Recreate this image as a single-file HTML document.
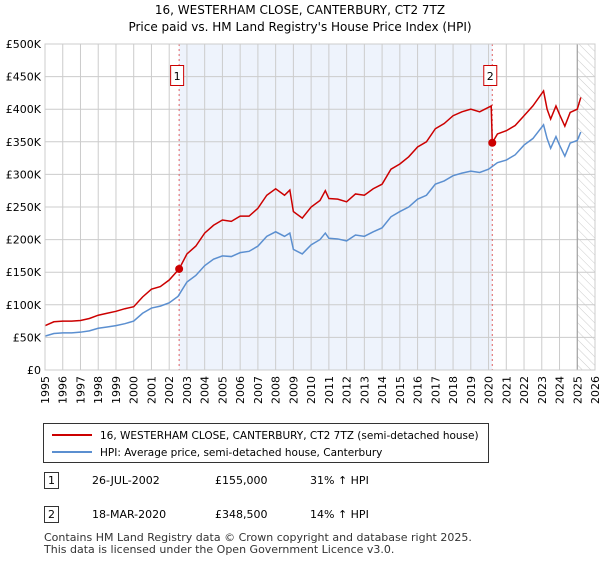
<!DOCTYPE html>
<html><head><meta charset="utf-8"><style>
body{margin:0;background:#fff;font-family:"Liberation Sans","DejaVu Sans",sans-serif;}
svg text{font-family:"DejaVu Sans","Liberation Sans",sans-serif;}
</style></head><body>
<svg id="c" width="600" height="560" viewBox="0 0 600 560" xmlns="http://www.w3.org/2000/svg">
<defs><pattern id="hatch" width="6" height="6" patternUnits="userSpaceOnUse" patternTransform="rotate(-45)"><line x1="0" y1="0" x2="0" y2="6" stroke="#ccc" stroke-width="1"/></pattern></defs>
<text x="300" y="14" text-anchor="middle" font-size="12">16, WESTERHAM CLOSE, CANTERBURY, CT2 7TZ</text>
<text x="300" y="31" text-anchor="middle" font-size="12">Price paid vs. HM Land Registry's House Price Index (HPI)</text>
<g id="plot"></g>
<g>
<rect x="43.5" y="423.5" width="445" height="39" fill="#fff" stroke="#333"/>
<line x1="52" y1="435" x2="92" y2="435" stroke="#cc0000" stroke-width="2"/>
<text x="100" y="439" font-size="10.5">16, WESTERHAM CLOSE, CANTERBURY, CT2 7TZ (semi-detached house)</text>
<line x1="52" y1="452" x2="92" y2="452" stroke="#5b8fd0" stroke-width="2"/>
<text x="100" y="456" font-size="10.5">HPI: Average price, semi-detached house, Canterbury</text>
</g>
<g font-size="11">
<rect x="44.5" y="472.5" width="14" height="16" fill="#fff" stroke="#333"/><text x="51.5" y="484" text-anchor="middle">1</text>
<text x="92" y="484">26-JUL-2002</text><text x="215" y="484">£155,000</text><text x="310" y="484">31% ↑ HPI</text>
<rect x="44.5" y="506.5" width="14" height="16" fill="#fff" stroke="#333"/><text x="51.5" y="518" text-anchor="middle">2</text>
<text x="92" y="518">18-MAR-2020</text><text x="215" y="518">£348,500</text><text x="310" y="518">14% ↑ HPI</text>
</g>
<text x="44" y="541" font-size="11" fill="#333">Contains HM Land Registry data © Crown copyright and database right 2025.</text>
<text x="44" y="553" font-size="11" fill="#333">This data is licensed under the Open Government Licence v3.0.</text>
</svg>
<script>
const yTicks=[0,50,100,150,200,250,300,350,400,450,500];
const yTickLabels=["£0","£50K","£100K","£150K","£200K","£250K","£300K","£350K","£400K","£450K","£500K"];
const years=[1995,1996,1997,1998,1999,2000,2001,2002,2003,2004,2005,2006,2007,2008,2009,2010,2011,2012,2013,2014,2015,2016,2017,2018,2019,2020,2021,2022,2023,2024,2025,2026];
const hpiDates=[1995,1995.5,1996,1996.5,1997,1997.5,1998,1998.5,1999,1999.5,2000,2000.5,2001,2001.5,2002,2002.5,2003,2003.5,2004,2004.5,2005,2005.5,2006,2006.5,2007,2007.5,2008,2008.5,2008.8,2009,2009.5,2010,2010.5,2010.8,2011,2011.5,2012,2012.5,2013,2013.5,2014,2014.5,2015,2015.5,2016,2016.5,2017,2017.5,2018,2018.5,2019,2019.5,2020,2020.5,2021,2021.5,2022,2022.5,2023.1,2023.3,2023.5,2023.8,2024,2024.3,2024.6,2025,2025.2];
const hpiValues=[52,56,57,57,58,60,64,66,68,71,75,87,95,98,103,113,135,145,160,170,175,174,180,182,190,205,212,205,210,185,178,192,200,210,202,201,198,207,205,212,218,235,243,250,262,268,285,290,298,302,305,303,308,318,322,330,345,355,376,355,340,358,345,328,348,352,365];
const priceDates=[1995,1995.5,1996,1996.5,1997,1997.5,1998,1998.5,1999,1999.5,2000,2000.5,2001,2001.5,2002,2002.56,2003,2003.5,2004,2004.5,2005,2005.5,2006,2006.5,2007,2007.5,2008,2008.5,2008.8,2009,2009.5,2010,2010.5,2010.8,2011,2011.5,2012,2012.5,2013,2013.5,2014,2014.5,2015,2015.5,2016,2016.5,2017,2017.5,2018,2018.5,2019,2019.5,2020.15,2020.21,2020.5,2021,2021.5,2022,2022.5,2023.1,2023.3,2023.5,2023.8,2024,2024.3,2024.6,2025,2025.2];
const priceValues=[68,74,75,75,76,79,84,87,90,94,97,112,124,128,138,155,178,190,210,222,230,228,236,236,248,268,278,268,276,243,233,250,260,275,263,262,258,270,268,278,285,308,316,327,342,350,370,378,390,396,400,396,405,348.5,362,367,375,390,405,428,400,385,405,392,374,395,400,418];
const saleDates=[2002.56,2020.21];
const saleValues=[155,348.5];
const saleLabels=["1","2"];

const L=45,R=595,T=44,B=370,x0=1995,x1=2026,ymax=500;
const X=d=>L+(d-x0)/(x1-x0)*(R-L);
const Y=v=>B-v/ymax*(B-T);
const NS="http://www.w3.org/2000/svg";
const g=document.getElementById('plot');
function mk(t,a){const e=document.createElementNS(NS,t);for(const k in a)e.setAttribute(k,a[k]);g.appendChild(e);return e;}
let e;
e=mk('rect',{x:X(saleDates[0]),y:T,width:X(saleDates[1])-X(saleDates[0]),height:B-T,fill:'#eef3fc'});


e=mk('rect',{x:X(2025),y:T,width:R-X(2025),height:B-T,fill:'url(#hatch)'});


years.forEach(yr=>{
 e=mk('line',{x1:X(yr),x2:X(yr),y1:T,y2:B,stroke:'#cccccc','stroke-width':1});
 
 
 e=mk('text',{x:0,y:0,'font-size':11,'text-anchor':'end',transform:`translate(${X(yr)+4},${B+6}) rotate(-90)`});
 e.textContent=yr;
 
 
});
yTicks.forEach((v,i)=>{
 e=mk('line',{x1:L,x2:R,y1:Y(v),y2:Y(v),stroke:'#cccccc','stroke-width':1});
 
 
 e=mk('text',{x:L-4,y:Y(v)+4,'font-size':11,'text-anchor':'end'});
 e.textContent=yTickLabels[i];
 
 
});
e=mk('line',{x1:X(2025),x2:X(2025),y1:T,y2:B,stroke:'#999','stroke-width':1});


saleDates.forEach((d,i)=>{
 e=mk('line',{x1:X(d),x2:X(d),y1:T,y2:B,stroke:'#e06060','stroke-width':1,'stroke-dasharray':'2,3'});
 
 
});
e=mk('polyline',{points:hpiDates.map((d,i)=>X(d)+','+Y(hpiValues[i])).join(' '),fill:'none',stroke:'#5b8fd0','stroke-width':1.5});


e=mk('polyline',{points:priceDates.map((d,i)=>X(d)+','+Y(priceValues[i])).join(' '),fill:'none',stroke:'#cc0000','stroke-width':1.5});


saleDates.forEach((d,i)=>{
 e=mk('circle',{cx:X(d),cy:Y(saleValues[i]),r:4,fill:'#cc0000'});
 
 
 e=mk('rect',{x:X(d)-8.5,y:65.5,width:13,height:20,fill:'#fff',stroke:'#cc0000'});
 
 
 e=mk('text',{x:X(d)-2,y:80,'font-size':11,'text-anchor':'middle'});
 e.textContent=saleLabels[i];
 
 
});
e=mk('rect',{x:L,y:T,width:R-L,height:B-T,fill:'none',stroke:'#cccccc'});


</script>
</body></html>
